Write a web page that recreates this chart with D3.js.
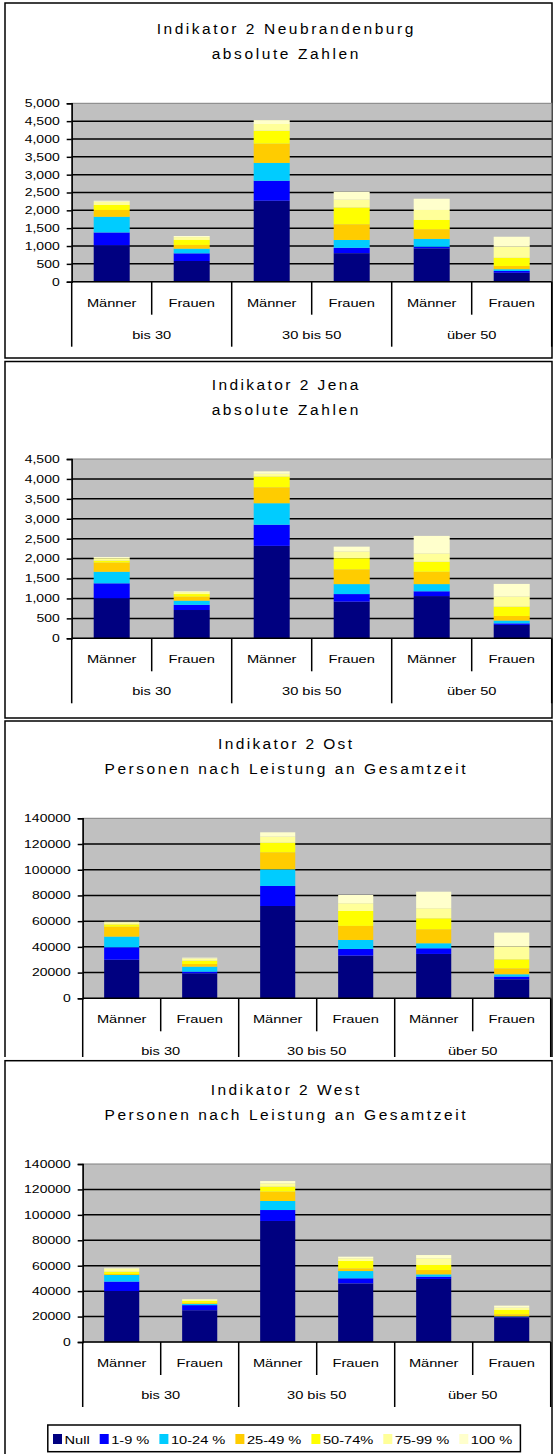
<!DOCTYPE html>
<html><head><meta charset="utf-8">
<script src="https://cdn.jsdelivr.net/npm/d3@7"></script>
<style>
body{margin:0;background:#fff}
svg{display:block}
text{font-family:"Liberation Sans",Arial,sans-serif;fill:#000}
</style>
</head><body>
<svg id="c" width="555" height="1454"></svg>
<script>
// ---------- data ----------
const seriesNames = ["Null","1-9 %","10-24 %","25-49 %","50-74%","75-99 %","100 %"];
const seriesColors = ["#000080","#0000FF","#00CCFF","#FFCC00","#FFFF00","#FFFF99","#FFFFCC"];
const subCategories = ["Männer","Frauen"];
const ageGroups = ["bis 30","30 bis 50","über 50"];

// one row per bar: bis30 M, bis30 F, 30-50 M, 30-50 F, über50 M, über50 F
// values in series order: Null, 1-9, 10-24, 25-49, 50-74, 75-99, 100
const neubrandenburg = [
  [1020, 360, 440, 190, 140, 90, 30],
  [580, 215, 130, 105, 140, 80, 30],
  [2270, 560, 500, 540, 360, 190, 110],
  [800, 150, 220, 440, 470, 220, 220],
  [935, 45, 220, 270, 260, 280, 315],
  [250, 50, 50, 90, 230, 310, 280]
];
const jena = [
  [1000, 380, 290, 230, 50, 60, 30],
  [710, 130, 105, 100, 65, 50, 20],
  [2320, 530, 540, 400, 270, 70, 60],
  [920, 190, 250, 370, 280, 170, 120],
  [1060, 120, 180, 310, 250, 210, 440],
  [335, 40, 70, 115, 235, 255, 315]
];
const ost = [
  [30000, 9700, 8300, 7700, 1800, 1500, 600],
  [19400, 1300, 3900, 2100, 2600, 1700, 600],
  [71800, 15600, 12900, 13300, 7400, 4800, 3300],
  [33200, 5200, 7000, 10900, 11600, 6000, 6500],
  [34500, 4400, 3900, 10900, 8500, 7800, 12900],
  [14800, 2100, 1800, 4600, 7000, 9900, 10900]
];
const west = [
  [40100, 7400, 5200, 800, 1800, 2500, 500],
  [25000, 4000, 1000, 800, 1500, 1200, 300],
  [95200, 8600, 7100, 7400, 3900, 2600, 1800],
  [46100, 4000, 5700, 2100, 5800, 2100, 1300],
  [49600, 1800, 1800, 3400, 4000, 5200, 2600],
  [19400, 500, 300, 1600, 3400, 1800, 1600]
];

const ticksNeubrandenburg = [0,500,1000,1500,2000,2500,3000,3500,4000,4500,5000];
const ticksJena = [0,500,1000,1500,2000,2500,3000,3500,4000,4500];
const ticksOstWest = [0,20000,40000,60000,80000,100000,120000,140000];

const titlesNeubrandenburg = ["Indikator 2 Neubrandenburg","absolute Zahlen"];
const titlesJena = ["Indikator 2 Jena","absolute Zahlen"];
const titlesOst = ["Indikator 2 Ost","Personen nach Leistung an Gesamtzeit"];
const titlesWest = ["Indikator 2 West","Personen nach Leistung an Gesamtzeit"];

// ---------- layout ----------
const K = 1.33; // horizontal text stretch of the original picture
const svg = d3.select("#c");

function stretch(sel, mode){
  sel.each(function(){
    const L = this.getComputedTextLength();
    this.setAttribute("textLength", (L*K).toFixed(1));
    this.setAttribute("lengthAdjust", mode || "spacingAndGlyphs");
  });
}

const charts = [
  {titles:titlesNeubrandenburg, data:neubrandenburg, ticks:ticksNeubrandenburg, fmt:d3.format(","),
   frameTop:3, frameBottom:358, plotTop:103.3, plotBottom:281.7, left:71.7, right:551.7},
  {titles:titlesJena, data:jena, ticks:ticksJena, fmt:d3.format(","),
   frameTop:361.5, frameBottom:718, plotTop:459, plotBottom:638.3, left:71.7, right:551.7},
  {titles:titlesOst, data:ost, ticks:ticksOstWest, fmt:d3.format("d"),
   frameTop:721, frameBottom:1080, plotTop:818.3, plotBottom:998.3, left:82.7, right:550.7, clip:1057},
  {titles:titlesWest, data:west, ticks:ticksOstWest, fmt:d3.format("d"),
   frameTop:1060.7, frameBottom:1470, plotTop:1164, plotBottom:1342, left:82.7, right:550.7, legend:true}
];

charts.forEach((c, ci) => {
  let g = svg.append("g");
  if (c.clip) {
    svg.append("clipPath").attr("id","clip"+ci).append("rect")
      .attr("x",0).attr("y",c.frameTop-2).attr("width",555).attr("height",c.clip-c.frameTop+2);
    g.attr("clip-path","url(#clip"+ci+")");
  }
  // frame
  g.append("rect").attr("x",5).attr("y",c.frameTop).attr("width",547).attr("height",c.frameBottom-c.frameTop)
    .attr("fill","#fff").attr("stroke","#000").attr("stroke-width",1.5);

  // titles
  g.selectAll("text.title").data(c.titles).join("text").attr("class","title")
    .attr("x",285).attr("y",(d,i)=> c.plotTop - 69 + i*24.5)
    .attr("text-anchor","middle").attr("font-size",15.5).attr("fill","#111")
    .text(d=>d).call(stretch, "spacing");

  const yMax = c.ticks[c.ticks.length-1];
  const y = d3.scaleLinear().domain([0,yMax]).range([c.plotBottom,c.plotTop]);
  const barIdx = d3.range(c.data.length);
  const x = d3.scaleBand().domain(barIdx).range([c.left,c.right]).paddingInner(0.55).paddingOuter(0.275);
  const step = (c.right-c.left)/c.data.length;

  // plot area
  g.append("rect").attr("x",c.left).attr("y",c.plotTop).attr("width",c.right-c.left).attr("height",c.plotBottom-c.plotTop)
    .attr("fill","#C0C0C0").attr("stroke","#808080").attr("stroke-width",1);

  // gridlines
  g.selectAll("line.grid").data(c.ticks.filter(t=>t>0 && t<yMax)).join("line").attr("class","grid")
    .attr("x1",c.left).attr("x2",c.right).attr("y1",d=>y(d)).attr("y2",d=>y(d))
    .attr("stroke","#000").attr("stroke-width",1.5);

  // stacked bars
  const rows = c.data.map((r,i)=>{ const o={i}; seriesNames.forEach((s,j)=>o[s]=r[j]); return o; });
  const stacked = d3.stack().keys(seriesNames)(rows);
  g.selectAll("g.series").data(stacked).join("g").attr("class","series")
    .attr("fill",(d,i)=>seriesColors[i])
    .selectAll("rect").data(d=>d).join("rect")
    .attr("x",d=>x(d.data.i)).attr("width",x.bandwidth())
    .attr("y",d=>y(d[1])).attr("height",d=>Math.max(0,y(d[0])-y(d[1])));

  // y axis
  const ya = g.append("g").attr("transform",`translate(${c.left},0)`)
    .call(d3.axisLeft(y).tickValues(c.ticks).tickFormat(c.fmt).tickSize(5).tickPadding(7));
  ya.select(".domain").attr("stroke","#000").attr("stroke-width",1.5);
  ya.selectAll(".tick line").attr("stroke","#000").attr("stroke-width",1.5);
  ya.selectAll(".tick text").attr("font-size",10.5).attr("font-family","Liberation Sans, Arial, sans-serif").call(stretch);

  // x axis line
  g.append("line").attr("x1",c.left).attr("x2",c.right).attr("y1",c.plotBottom).attr("y2",c.plotBottom)
    .attr("stroke","#000").attr("stroke-width",1.5);

  // separators
  const bounds = d3.range(c.data.length+1);
  g.selectAll("line.sep").data(bounds).join("line").attr("class","sep")
    .attr("x1",i=>c.left+i*step).attr("x2",i=>c.left+i*step)
    .attr("y1",c.plotBottom).attr("y2",i=> i%2===0 ? c.plotBottom+65 : c.plotBottom+33)
    .attr("stroke","#000").attr("stroke-width",1.5);

  // sub-category labels
  g.selectAll("text.sub").data(barIdx).join("text").attr("class","sub")
    .attr("x",i=>x(i)+x.bandwidth()/2).attr("y",c.plotBottom+25)
    .attr("text-anchor","middle").attr("font-size",11).text(i=>subCategories[i%2]).call(stretch);

  // group labels
  g.selectAll("text.grp").data(ageGroups).join("text").attr("class","grp")
    .attr("x",(d,i)=>c.left+(2*i+1)*step).attr("y",c.plotBottom+57)
    .attr("text-anchor","middle").attr("font-size",11).text(d=>d).call(stretch);

  if (c.legend) {
    const lg = g.append("g");
    lg.append("rect").attr("x",47.8).attr("y",1425).attr("width",472.6).attr("height",26.7)
      .attr("fill","#fff").attr("stroke","#000").attr("stroke-width",1.5);
    let cx = 53;
    seriesNames.forEach((s,i)=>{
      lg.append("rect").attr("x",cx).attr("y",1434).attr("width",9).attr("height",10).attr("fill",seriesColors[i]);
      const t = lg.append("text").attr("x",cx+11.5).attr("y",1443.5).attr("font-size",11).text(s).call(stretch);
      cx += 11.5 + (+t.attr("textLength")) + 10;
    });
  }
});
</script>
</body></html>
